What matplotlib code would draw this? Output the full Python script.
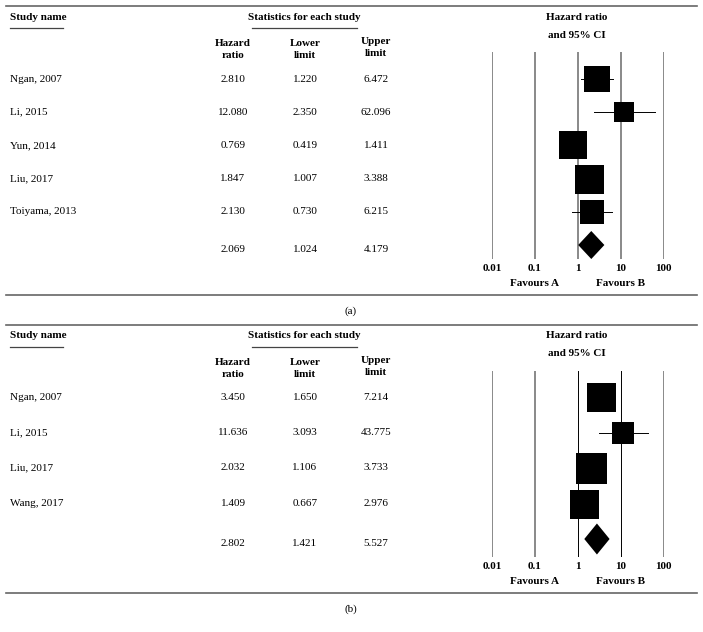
import matplotlib.pyplot as plt
from matplotlib.lines import Line2D
from matplotlib.ticker import NullLocator

# panel (a)
studies_a = ['Ngan, 2007', 'Li, 2015', 'Yun, 2014', 'Liu, 2017', 'Toiyama, 2013']
hr_a = [2.810, 12.080, 0.769, 1.847, 2.130]
lower_a = [1.220, 2.350, 0.419, 1.007, 0.730]
upper_a = [6.472, 62.096, 1.411, 3.388, 6.215]
weights_a = [27, 20, 28.5, 29, 24]
summary_a = [2.069, 1.024, 4.179]

# panel (b)
studies_b = ['Ngan, 2007', 'Li, 2015', 'Liu, 2017', 'Wang, 2017']
hr_b = [3.450, 11.636, 2.032, 1.409]
lower_b = [1.650, 3.093, 1.106, 0.667]
upper_b = [7.214, 43.775, 3.733, 2.976]
weights_b = [29, 22, 31, 29]
summary_b = [2.802, 1.421, 5.527]

ticks = [0.01, 0.1, 1, 10, 100]
tick_labels = ['0.01', '0.1', '1', '10', '100']

W, H = 703, 632
plt.rcParams['font.family'] = ['Liberation Serif', 'DejaVu Serif']
FS = 8

fig = plt.figure(figsize=(W / 100, H / 100), dpi=100)


def fx(x):
    return x / W


def fy(y):
    return 1 - y / H


def hline(x0, x1, y, color, lw):
    fig.add_artist(Line2D([fx(x0), fx(x1)], [fy(y), fy(y)], color=color, lw=lw))


def txt(x, y, s, bold=False, ha='center'):
    fig.text(fx(x), fy(y), s, ha=ha, va='center', fontsize=FS,
             fontweight='bold' if bold else 'normal', linespacing=1.45)


def draw_panel(top, first, step, bottom, names, hr, lo, hi, weights, summ, sum_h, dark_mid, caption):
    hline(6, 697, top, '#666666', 1.2)
    # headers
    txt(10, top + 11, 'Study name', bold=True, ha='left')
    hline(10, 63, top + 21.5, '#444444', 0.9)
    txt(304, top + 11, 'Statistics for each study', bold=True)
    hline(252, 357, top + 22, '#444444', 0.9)
    txt(233, top + 43.5, 'Hazard\nratio', bold=True)
    txt(305, top + 43.5, 'Lower\nlimit', bold=True)
    txt(376, top + 41.5, 'Upper\nlimit', bold=True)
    txt(577, top + 11, 'Hazard ratio', bold=True)
    txt(577, top + 29, 'and 95% CI', bold=True)

    ys = [first + i * step for i in range(len(names))]
    ys_sum = first + len(names) * step
    for y, name, h, l, u in zip(ys, names, hr, lo, hi):
        txt(10, y, name, ha='left')
        txt(233, y, '%.3f' % h)
        txt(305, y, '%.3f' % l)
        txt(376, y, '%.3f' % u)
    txt(233, ys_sum + 4, '%.3f' % summ[0])
    txt(305, ys_sum + 4, '%.3f' % summ[1])
    txt(376, ys_sum + 4, '%.3f' % summ[2])

    # forest plot
    x0, x1 = 492, 663.5
    line_top = top + 46
    ax = fig.add_axes([fx(x0), fy(bottom), (x1 - x0) / W, (bottom - line_top) / H])
    ax.set_xscale('log')
    ax.set_xlim(0.01, 100)
    ax.set_ylim(bottom, line_top)
    for t in ticks:
        if dark_mid and t in (1, 10):
            ax.axvline(t, color='black', lw=0.7, zorder=1)
        else:
            ax.axvline(t, color='#808080', lw=1.3, zorder=1)
    for y, h, l, u, w in zip(ys, hr, lo, hi, weights):
        ax.plot([l, u], [y, y], color='black', lw=0.7, zorder=2)
        ax.plot([h], [y], marker='s', markersize=w * 0.72, color='black',
                markeredgewidth=0, zorder=3)
    ax.fill([summ[1], summ[0], summ[2], summ[0]],
            [ys_sum, ys_sum - sum_h / 2, ys_sum, ys_sum + sum_h / 2],
            color='black', lw=0, zorder=3)
    ax.set_xticks(ticks, labels=tick_labels)
    ax.xaxis.set_minor_locator(NullLocator())
    ax.tick_params(axis='x', length=0, pad=3.5, labelsize=FS)
    for lab in ax.get_xticklabels():
        lab.set_fontweight('bold')
    ax.set_yticks([])
    for s in ax.spines.values():
        s.set_visible(False)
    ax.patch.set_visible(False)

    txt(535, bottom + 25, 'Favours A', bold=True)
    txt(621, bottom + 25, 'Favours B', bold=True)
    hline(6, 697, bottom + 36, '#666666', 1.2)
    txt(351, bottom + 52, caption)


draw_panel(6, 79, 33.2, 259, studies_a, hr_a, lower_a, upper_a, weights_a,
           summary_a, 28, False, '(a)')
draw_panel(325, 397, 35.5, 557, studies_b, hr_b, lower_b, upper_b, weights_b,
           summary_b, 31, True, '(b)')

fig.savefig('out.png', dpi=100)
